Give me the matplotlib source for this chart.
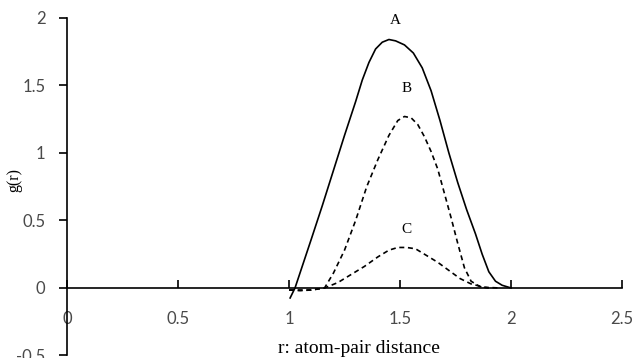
import matplotlib.pyplot as plt

# curve A (solid)
a_r = [1.005, 1.027, 1.1, 1.15, 1.2, 1.25, 1.3, 1.33, 1.36, 1.39, 1.42, 1.45, 1.48,
       1.52, 1.56, 1.6, 1.64, 1.68, 1.72, 1.76, 1.8, 1.84, 1.87, 1.9, 1.93, 1.96, 2.0]
a_g = [-0.074, 0.0, 0.36, 0.61, 0.87, 1.13, 1.38, 1.54, 1.67, 1.77, 1.82, 1.84, 1.83,
       1.80, 1.74, 1.63, 1.46, 1.24, 1.0, 0.78, 0.58, 0.40, 0.25, 0.12, 0.05, 0.02, 0.0]

# curve B (dashed)
b_r = [1.0, 1.05, 1.10, 1.16, 1.2, 1.25, 1.3, 1.35, 1.4, 1.45, 1.49, 1.52, 1.55, 1.58,
       1.61, 1.64, 1.67, 1.7, 1.73, 1.76, 1.79, 1.82, 1.86, 1.9]
b_g = [-0.015, -0.02, -0.015, 0.0, 0.11, 0.28, 0.5, 0.75, 0.95, 1.13, 1.24, 1.27, 1.26, 1.21,
       1.12, 1.01, 0.88, 0.70, 0.52, 0.33, 0.15, 0.05, 0.01, 0.0]

# curve C (dashed)
c_r = [1.0, 1.1, 1.16, 1.22, 1.28, 1.34, 1.4, 1.45, 1.49, 1.53, 1.57, 1.62, 1.67, 1.72,
       1.77, 1.82, 1.88, 1.95]
c_g = [-0.015, -0.015, 0.0, 0.04, 0.1, 0.16, 0.23, 0.28, 0.30, 0.30, 0.29, 0.24, 0.19, 0.13,
       0.07, 0.03, 0.005, 0.0]

xticks = [0, 0.5, 1, 1.5, 2, 2.5]
yticks = [-0.5, 0, 0.5, 1, 1.5, 2]

fig = plt.figure(figsize=(6.38, 3.58), dpi=100)
ax = fig.add_axes([0.105, 0.007, 0.87, 0.943])

ax.plot(a_r, a_g, color='black', lw=1.2)
ax.plot(b_r, b_g, color='black', lw=1.2, dashes=(3, 2.2))
ax.plot(c_r, c_g, color='black', lw=1.2, dashes=(3, 2.2))

ax.set_xlim(0, 2.5)
ax.set_ylim(-0.5, 2)
ax.spines['bottom'].set_position(('data', 0))
ax.spines['right'].set_visible(False)
ax.spines['top'].set_visible(False)
for s in ['left', 'bottom']:
    ax.spines[s].set_linewidth(1.2)

ax.set_xticks(xticks)
ax.set_xticklabels([f'{v:g}' for v in xticks])
ax.set_yticks(yticks)
ax.set_yticklabels([f'{v:g}' for v in yticks])
ax.tick_params(axis='x', direction='in', length=6, width=1.2, pad=16.5,
               labelsize=12, labelcolor='#4a4a4a')
ax.tick_params(axis='y', direction='out', length=6, width=1.2, pad=9.5,
               labelsize=12, labelcolor='#4a4a4a')
for lab in ax.get_xticklabels() + ax.get_yticklabels():
    lab.set_family('Lato')

serif = 'Liberation Serif'
ax.text(1.315, -0.45, 'r: atom-pair distance', ha='center', va='center',
        family=serif, fontsize=14)
fig.text(0.022, 0.497, 'g(r)', rotation=90, ha='center', va='center',
         family=serif, fontsize=11.5)

ax.text(1.48, 1.98, 'A', ha='center', va='center', family=serif, fontsize=11)
ax.text(1.53, 1.48, 'B', ha='center', va='center', family=serif, fontsize=11)
ax.text(1.53, 0.43, 'C', ha='center', va='center', family=serif, fontsize=11)

plt.savefig('out.png', dpi=100)
